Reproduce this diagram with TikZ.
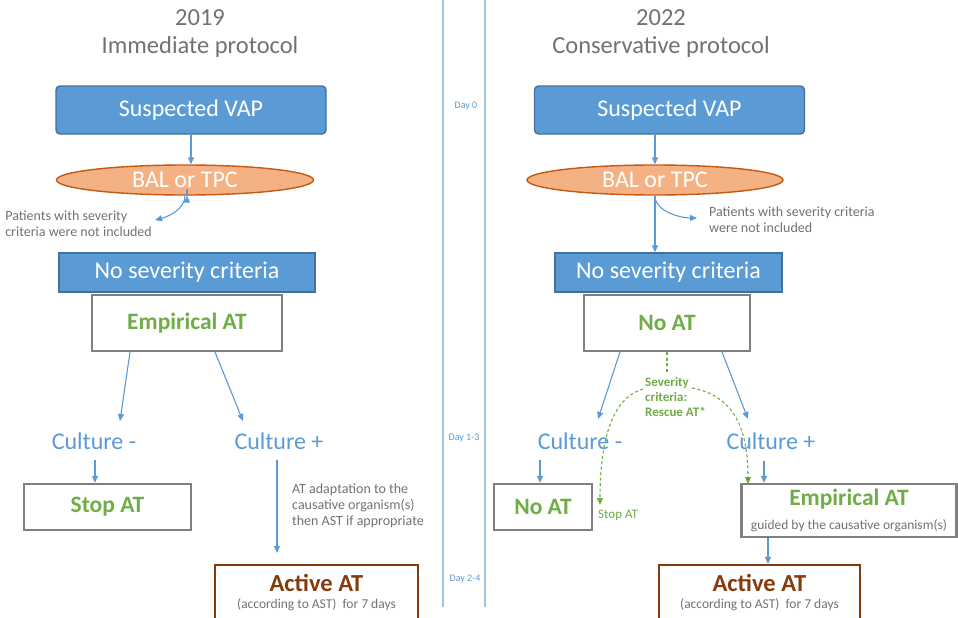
\documentclass[tikz,border=0pt]{standalone}
\usepackage{fontspec}
\setmainfont{Carlito}
\usetikzlibrary{arrows.meta,shapes.geometric,calc}
\definecolor{blueFill}{HTML}{5B9BD5}
\definecolor{blueDraw}{HTML}{41719C}
\definecolor{orFill}{HTML}{F4B183}
\definecolor{orDraw}{HTML}{C55A11}
\definecolor{grayT}{HTML}{767171}
\definecolor{boxGray}{HTML}{7F7F7F}
\definecolor{greenT}{HTML}{70AD47}
\definecolor{darkGreen}{HTML}{548235}
\definecolor{brownC}{HTML}{843C0C}
\definecolor{lineBlue}{HTML}{5B9BD5}
\definecolor{dayBlue}{HTML}{9DC3E6}
\newcommand{\fsz}[1]{\fontsize{#1}{#1}\selectfont}
\begin{document}
\begin{tikzpicture}[x=1pt,y=-1pt,
  title/.style={text=grayT,font=\fsz{24.5}},
  bluebox/.style={draw=blueDraw,fill=blueFill,line width=1.4pt,text=white,font=\fsz{24},inner sep=0pt},
  balnode/.style={ellipse,draw=orDraw,fill=orFill,line width=1.4pt,text=white,font=\fsz{24},inner sep=0pt,minimum height=30pt},
  graybox/.style={draw=boxGray,fill=white,line width=2.4pt,inner sep=0pt,text=greenT,font=\bfseries\fsz{23.5}},
  brownbox/.style={draw=brownC,fill=white,line width=2.2pt,inner sep=0pt,align=center},
  culture/.style={text=lineBlue,font=\fsz{24},inner sep=0pt},
  note/.style={text=grayT,font=\fsz{14},align=left,inner sep=0pt},
  daylbl/.style={text=lineBlue,font=\fsz{10},inner sep=0pt},
  arr/.style={draw=lineBlue,line width=1.1pt,-{Triangle[length=7pt,width=6pt]}},
  garr/.style={draw=greenT,line width=1.1pt,dashed,dash pattern=on 3pt off 2.5pt},
]
\clip (0,0) rectangle (958,618);
\fill[white] (0,0) rectangle (958,618);

% titles
\node[title] (t1a) at (200,18) {2019};
\node[title] (t1b) at (200,47) {Immediate protocol};
\node[title] (t2a) at (661,18) {2022};
\node[title] (t2b) at (661,47) {Conservative protocol};

% timeline
\coordinate (tl1) at (443,0); \coordinate (tl1b) at (443,607);
\coordinate (tl2) at (485,0); \coordinate (tl2b) at (485,607);
\draw[dayBlue,line width=1.3pt] (tl1) -- (tl1b);
\draw[dayBlue,line width=1.3pt] (tl2) -- (tl2b);
\node[daylbl] (d0) at (466,106) {Day 0};
\node[daylbl] (d1) at (464,438) {Day 1-3};
\node[daylbl] (d2) at (465,579) {Day 2-4};

% ---------------- left ----------------
\node[bluebox,rounded corners=4pt,minimum width=270pt,minimum height=48pt] (vapL) at (191,110) {Suspected VAP};
\node[balnode,minimum width=257pt] (balL) at (185,180) {BAL or TPC};
\node[bluebox,minimum width=256pt,minimum height=39pt] (nsL) at (187,272.5) {No severity criteria};
\node[graybox,minimum width=190pt,minimum height=56pt] (empL) at (187,323) {Empirical AT};
\node[culture] (cmL) at (94,441) {Culture -};
\node[culture] (cpL) at (279,441) {Culture +};
\node[graybox,minimum width=167pt,minimum height=46pt] (stopL) at (107.5,507) {Stop AT};
\node[brownbox,minimum width=203pt,minimum height=56pt] (actL) at (316.5,593)
  {{\color{brownC}\bfseries\fsz{24.5}Active AT}\\[5pt]{\color{grayT}\fsz{13.5}(according to AST)\ \ for 7 days}};
\node[note,anchor=east] (exLt) at (152,224) {Patients with severity\\[2pt]criteria were not included};
\node[note,anchor=north west] (adL) at (292,484) {AT adaptation to the\\[2pt]causative organism(s)\\[2pt]then AST if appropriate};

\coordinate (exL) at (155,220);
\draw[arr] (vapL.south) -- (vapL.south |- balL.north);
\draw[arr] ($(balL.south)+(2,0)$) -- ($(balL.south)+(2,0)$ |- nsL.north);
\draw[arr] ($(balL.south)+(0,0)$) .. controls +(0,14) and +(12,-3) .. (exL);
\coordinate (eL1) at (130,352); \coordinate (eL1e) at (120,421);
\coordinate (eL2) at (215,352); \coordinate (eL2e) at (243,421);
\draw[arr] (eL1) -- (eL1e);
\draw[arr] (eL2) -- (eL2e);
\coordinate (sL) at (95,460);
\draw[arr] (sL) -- (sL |- stopL.north);
\coordinate (aL) at (277,460); \coordinate (aLe) at (277,553);
\draw[arr] (aL) -- (aLe);

% ---------------- right ----------------
\node[bluebox,rounded corners=4pt,minimum width=270pt,minimum height=48pt] (vapR) at (669.5,110) {Suspected VAP};
\node[balnode,minimum width=256pt] (balR) at (655,180) {BAL or TPC};
\node[bluebox,minimum width=227pt,minimum height=39pt] (nsR) at (668.5,272.5) {No severity criteria};
\node[graybox,minimum width=166pt,minimum height=56pt] (noatR) at (667,323) {No AT};
\node[culture] (cmR) at (580,441) {Culture -};
\node[culture] (cpR) at (771,441) {Culture +};
\node[graybox,minimum width=98pt,minimum height=46pt] (noatR2) at (543,507) {No AT};
\node[graybox,minimum width=215pt,minimum height=53pt,align=center] (empR) at (849,510.5)
  {Empirical AT\\[1pt]{\color{grayT}\mdseries\fsz{13.5}guided by the causative organism(s)}};
\node[brownbox,minimum width=201pt,minimum height=56pt] (actR) at (759.5,593)
  {{\color{brownC}\bfseries\fsz{24.5}Active AT}\\[5pt]{\color{grayT}\fsz{13.5}(according to AST)\ \ for 7 days}};
\node[note,anchor=west] (exRt) at (709,219.5) {Patients with severity criteria\\[2pt]were not included};
\node[text=greenT,font=\bfseries\fsz{13},align=left,inner sep=0pt,anchor=north west] (sev) at (645,377)
  {Severity\\[2pt]criteria:\\[2pt]Rescue AT*};
\node[text=greenT,font=\fsz{13},inner sep=0pt,anchor=west] (stopR) at (598,515) {Stop AT};

\coordinate (exR) at (697,218);
\draw[arr] (vapR.south -| balR.north) -- (balR.north);
\draw[arr] (balR.south) -- (balR.south |- nsR.north);
\draw[arr] (balR.south) .. controls +(0,16) and +(-16,0) .. (exR);
\coordinate (eR1) at (620,352); \coordinate (eR1e) at (598,419);
\coordinate (eR2) at (722,352); \coordinate (eR2e) at (748,419);
\draw[arr] (eR1) -- (eR1e);
\draw[arr] (eR2) -- (eR2e);
\coordinate (sR) at (764,461);
\coordinate (sL2) at (540,460);
\draw[arr] (sL2) -- (sL2 |- noatR2.north);
\draw[arr] (sR) -- (sR |- empR.north);
\coordinate (aR) at (768,538);
\draw[arr] (aR) -- (aR |- actR.north);

% dashed rescue paths
\coordinate (g0) at (667,352); \coordinate (g0e) at (667,373);
\draw[garr] (g0) -- (g0e);
\coordinate (gL) at (643,389); \coordinate (gLe) at (600,505);
\coordinate (gR) at (692,388); \coordinate (gRe) at (748,484);
\draw[garr,-{Triangle[length=7pt,width=6pt]}] (gL) .. controls (612,398) and (600,440) .. (gLe);
\draw[garr,-{Triangle[length=7pt,width=6pt,fill=darkGreen]}] (gR) .. controls (735,396) and (748,430) .. (gRe);
\end{tikzpicture}
\end{document}
